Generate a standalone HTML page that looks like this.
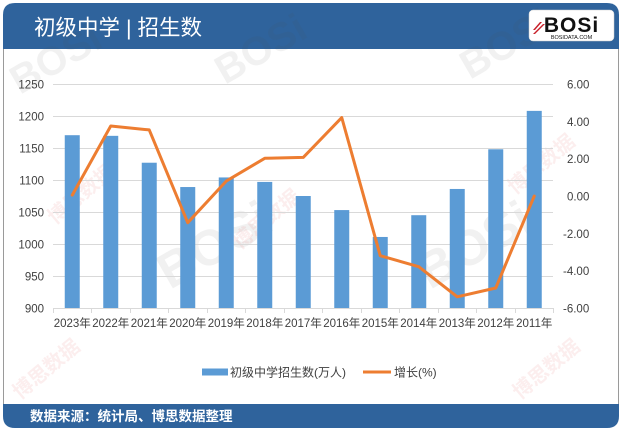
<!DOCTYPE html>
<html>
<head>
<meta charset="utf-8">
<style>
  html,body{margin:0;padding:0;background:#fff;}
  body{width:622px;height:434px;overflow:hidden;}
  svg{display:block;}
  text{font-family:"Liberation Sans","Noto Sans CJK SC",sans-serif;}
</style>
</head>
<body>
<svg width="622" height="434" viewBox="0 0 622 434" xmlns="http://www.w3.org/2000/svg">
  <rect x="0" y="0" width="622" height="434" fill="#ffffff"/>
  <!-- body frame -->
  <rect x="3.5" y="40" width="615" height="375" fill="#ffffff" stroke="#9a9a9a" stroke-width="1"/>
  <!-- header -->
  <path d="M3 49 L3 15 Q3 3 15 3 L607 3 Q619 3 619 15 L619 49 Z" fill="#2f639c"/>
  <!-- footer -->
  <path d="M3 404 L619 404 L619 416 Q619 428 607 428 L15 428 Q3 428 3 416 Z" fill="#2f639c"/>

  <!-- watermarks -->
  <g opacity="0.08" fill="#555" font-weight="bold">
    <text x="0" y="0" font-size="40" transform="translate(20,95) rotate(-30)">BOSi</text>
    <text x="0" y="0" font-size="40" transform="translate(225,85) rotate(-30)">BOSi</text>
    <text x="0" y="0" font-size="40" transform="translate(470,80) rotate(-30)">BOSi</text>
    <text x="0" y="0" font-size="50" transform="translate(170,290) rotate(-30)">BOSi</text>
    <text x="0" y="0" font-size="50" transform="translate(430,290) rotate(-30)">BOSi</text>
  </g>
  <g opacity="0.08" fill="#d03030" font-weight="bold">
    <text x="0" y="0" font-size="20" transform="translate(55,225) rotate(-40)">博思数据</text>
    <text x="0" y="0" font-size="20" transform="translate(240,250) rotate(-40)">博思数据</text>
    <text x="0" y="0" font-size="20" transform="translate(515,195) rotate(-40)">博思数据</text>
    <text x="0" y="0" font-size="20" transform="translate(20,400) rotate(-40)">博思数据</text>
    <text x="0" y="0" font-size="20" transform="translate(520,400) rotate(-40)">博思数据</text>
  </g>

  <!-- title -->
  <text x="34" y="35" font-size="21.5" fill="#ffffff">初级中学 | 招生数</text>

  <!-- logo -->
  <rect x="529" y="10" width="85" height="31" rx="4" fill="#ffffff" stroke="#cccccc" stroke-width="0.5"/>
  <text x="571.5" y="32" font-size="21" font-weight="bold" fill="#111" text-anchor="middle" letter-spacing="1">BOSi</text>
  <text x="571.5" y="39" font-size="5.5" fill="#111" text-anchor="middle">BOSIDATA.COM</text>
  <path d="M533 30 L540 22 L542 22 L535 30 Z M533 34 L543 24 L545 24 L535 34 Z" fill="#c8202a"/>

  <!-- gridlines -->
  <g stroke="#d9d9d9" stroke-width="1">
    <line x1="53" y1="84.5" x2="553" y2="84.5"/>
    <line x1="53" y1="116.5" x2="553" y2="116.5"/>
    <line x1="53" y1="148.5" x2="553" y2="148.5"/>
    <line x1="53" y1="180.5" x2="553" y2="180.5"/>
    <line x1="53" y1="212.5" x2="553" y2="212.5"/>
    <line x1="53" y1="244.5" x2="553" y2="244.5"/>
    <line x1="53" y1="276.5" x2="553" y2="276.5"/>
    <line x1="53" y1="308.5" x2="553" y2="308.5"/>
  </g>
  <!-- x-axis ticks -->
  <g stroke="#d9d9d9" stroke-width="1">
    <line x1="53.5" y1="308" x2="53.5" y2="313"/>
    <line x1="91.5" y1="308" x2="91.5" y2="313"/>
    <line x1="130.5" y1="308" x2="130.5" y2="313"/>
    <line x1="168.5" y1="308" x2="168.5" y2="313"/>
    <line x1="207.5" y1="308" x2="207.5" y2="313"/>
    <line x1="245.5" y1="308" x2="245.5" y2="313"/>
    <line x1="284.5" y1="308" x2="284.5" y2="313"/>
    <line x1="322.5" y1="308" x2="322.5" y2="313"/>
    <line x1="361.5" y1="308" x2="361.5" y2="313"/>
    <line x1="399.5" y1="308" x2="399.5" y2="313"/>
    <line x1="438.5" y1="308" x2="438.5" y2="313"/>
    <line x1="476.5" y1="308" x2="476.5" y2="313"/>
    <line x1="515.5" y1="308" x2="515.5" y2="313"/>
    <line x1="553.5" y1="308" x2="553.5" y2="313"/>
  </g>

  <!-- bars -->
  <g fill="#5b9bd5">
    <rect x="64.75" y="135.2" width="15" height="172.8"/>
    <rect x="103.25" y="135.84" width="15" height="172.16"/>
    <rect x="141.75" y="162.72" width="15" height="145.28"/>
    <rect x="180.25" y="187.04" width="15" height="120.96"/>
    <rect x="218.75" y="177.44" width="15" height="130.56"/>
    <rect x="257.25" y="181.92" width="15" height="126.08"/>
    <rect x="295.75" y="196" width="15" height="112"/>
    <rect x="334.25" y="210.08" width="15" height="97.92"/>
    <rect x="372.75" y="236.96" width="15" height="71.04"/>
    <rect x="411.25" y="215.2" width="15" height="92.8"/>
    <rect x="449.75" y="188.96" width="15" height="119.04"/>
    <rect x="488.25" y="149.28" width="15" height="158.72"/>
    <rect x="526.75" y="110.88" width="15" height="197.12"/>
  </g>

  <!-- line -->
  <polyline fill="none" stroke="#ed7d31" stroke-width="3" stroke-linejoin="round" stroke-linecap="round"
    points="72.25,195.1 110.75,126 149.25,129.9 187.75,222.7 226.25,181.1 264.75,158.3 303.25,157.4 341.75,117.6 380.25,255.7 418.75,266.7 457.25,296.8 495.75,288 534.25,196"/>

  <!-- left axis labels -->
  <g font-size="11.5" fill="#404040" text-anchor="end">
    <text x="44" y="88.5">1250</text>
    <text x="44" y="120.5">1200</text>
    <text x="44" y="152.5">1150</text>
    <text x="44" y="184.5">1100</text>
    <text x="44" y="216.5">1050</text>
    <text x="44" y="248.5">1000</text>
    <text x="44" y="280.5">950</text>
    <text x="44" y="312.5">900</text>
  </g>
  <!-- right axis labels -->
  <g font-size="11.5" fill="#404040" text-anchor="start">
    <text x="567" y="88.5">6.00</text>
    <text x="567" y="125.8">4.00</text>
    <text x="567" y="163.2">2.00</text>
    <text x="567" y="200.5">0.00</text>
    <text x="563" y="237.8">-2.00</text>
    <text x="563" y="275.2">-4.00</text>
    <text x="563" y="312.5">-6.00</text>
  </g>
  <!-- x labels -->
  <g font-size="11.5" fill="#404040" text-anchor="middle">
    <text x="72.25" y="327">2023年</text>
    <text x="110.75" y="327">2022年</text>
    <text x="149.25" y="327">2021年</text>
    <text x="187.75" y="327">2020年</text>
    <text x="226.25" y="327">2019年</text>
    <text x="264.75" y="327">2018年</text>
    <text x="303.25" y="327">2017年</text>
    <text x="341.75" y="327">2016年</text>
    <text x="380.25" y="327">2015年</text>
    <text x="418.75" y="327">2014年</text>
    <text x="457.25" y="327">2013年</text>
    <text x="495.75" y="327">2012年</text>
    <text x="534.25" y="327">2011年</text>
  </g>

  <!-- legend -->
  <rect x="202" y="368.5" width="26" height="7" fill="#5b9bd5"/>
  <text x="230" y="376.5" font-size="12" fill="#404040">初级中学招生数(万人)</text>
  <line x1="363" y1="372" x2="391" y2="372" stroke="#ed7d31" stroke-width="3"/>
  <text x="394" y="376.5" font-size="12" fill="#404040">增长(%)</text>

  <!-- footer text -->
  <text x="30" y="421" font-size="13.5" font-weight="bold" fill="#ffffff">数据来源：统计局、博思数据整理</text>
</svg>
</body>
</html>
